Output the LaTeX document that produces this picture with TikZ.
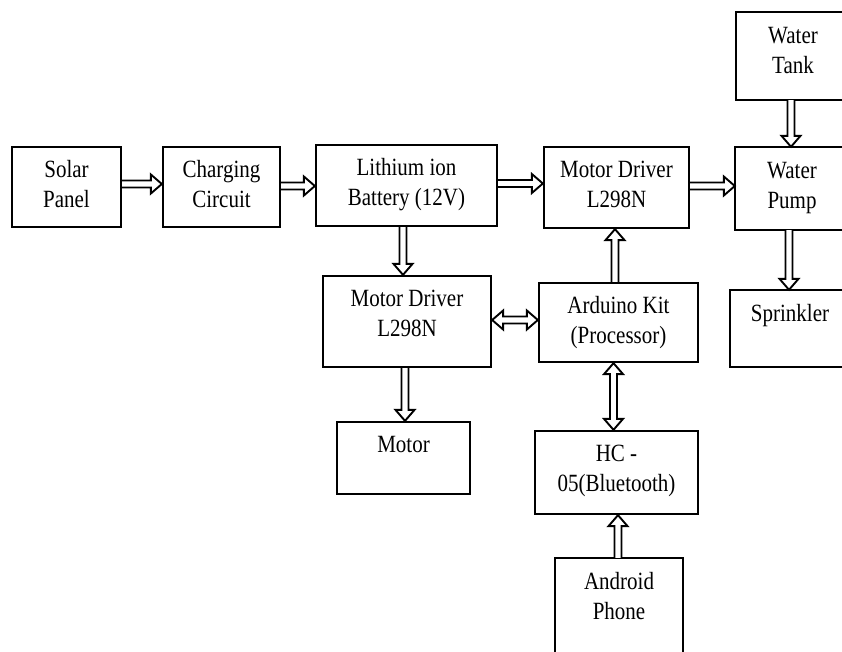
\documentclass[tikz,border=0pt]{standalone}
\usepackage{fontspec}
\setmainfont{Liberation Serif}
\usetikzlibrary{fit,calc}
\newcommand\sw{3.5pt}
\newcommand\hw{9.5pt}
\newcommand\hl{11pt}
\tikzset{
  box/.style={draw, line width=2.3pt, inner sep=0pt, rectangle},
  openbox/.style={inner sep=0pt, rectangle},
  edge3/.style={line width=2.3pt},
  lbl/.style={inner sep=0pt, anchor=base, font=\fontsize{21}{25.4}\selectfont},
  blk/.style={draw, line width=1.9pt, line join=miter, fill=white}
}
% single-headed horizontal arrow
\newcommand\harr[2]{\draw[blk] let \p1=(#1), \p2=(#2), \n1={sign(\x2-\x1)} in
  ({\x1},{\y1-\sw}) -- ({\x2-\n1*\hl},{\y1-\sw}) -- ({\x2-\n1*\hl},{\y1-\hw}) -- ({\x2},{\y1})
  -- ({\x2-\n1*\hl},{\y1+\hw}) -- ({\x2-\n1*\hl},{\y1+\sw}) -- ({\x1},{\y1+\sw});}
% single-headed vertical arrow
\newcommand\varr[2]{\draw[blk] let \p1=(#1), \p2=(#2), \n1={sign(\y2-\y1)} in
  ({\x1-\sw},{\y1}) -- ({\x1-\sw},{\y2-\n1*\hl}) -- ({\x1-\hw},{\y2-\n1*\hl}) -- ({\x1},{\y2})
  -- ({\x1+\hw},{\y2-\n1*\hl}) -- ({\x1+\sw},{\y2-\n1*\hl}) -- ({\x1+\sw},{\y1});}
% double-headed horizontal arrow
\newcommand\hdarr[2]{\draw[blk] let \p1=(#1), \p2=(#2), \n1={sign(\x2-\x1)} in
  ({\x1},{\y1}) -- ({\x1+\n1*\hl},{\y1-\hw}) -- ({\x1+\n1*\hl},{\y1-\sw}) -- ({\x2-\n1*\hl},{\y1-\sw})
  -- ({\x2-\n1*\hl},{\y1-\hw}) -- ({\x2},{\y1}) -- ({\x2-\n1*\hl},{\y1+\hw}) -- ({\x2-\n1*\hl},{\y1+\sw})
  -- ({\x1+\n1*\hl},{\y1+\sw}) -- ({\x1+\n1*\hl},{\y1+\hw}) -- cycle;}
% double-headed vertical arrow
\newcommand\vdarr[2]{\draw[blk] let \p1=(#1), \p2=(#2), \n1={sign(\y2-\y1)} in
  ({\x1},{\y1}) -- ({\x1-\hw},{\y1+\n1*\hl}) -- ({\x1-\sw},{\y1+\n1*\hl}) -- ({\x1-\sw},{\y2-\n1*\hl})
  -- ({\x1-\hw},{\y2-\n1*\hl}) -- ({\x1},{\y2}) -- ({\x1+\hw},{\y2-\n1*\hl}) -- ({\x1+\sw},{\y2-\n1*\hl})
  -- ({\x1+\sw},{\y1+\n1*\hl}) -- ({\x1+\hw},{\y1+\n1*\hl}) -- cycle;}
\newcommand\boxlabel[3]{%
  \node[lbl] (#1-t) at ([yshift=-31.5pt]#1.north -| #2) {\scalebox{1}[1.18]{\begin{tabular}[t]{@{}c@{}}#3\end{tabular}}};}
% closed box with top-aligned text
\newcommand\blockbox[3]{%
  \node[box, fit={#2}] (#1) {};
  \boxlabel{#1}{#1.north}{#3}}
% box cut off by the right edge of the picture: #4 = text centre x
\newcommand\cutbox[4]{%
  \node[openbox, fit={#2}] (#1) {};
  \draw[edge3] ([xshift=40pt]#1.north east) -- (#1.north west) -- (#1.south west) -- ([xshift=40pt]#1.south east);
  \boxlabel{#1}{#4}{#3}}
% box cut off by the bottom edge of the picture
\newcommand\cutboxb[3]{%
  \node[openbox, fit={#2}] (#1) {};
  \draw[edge3] ([yshift=-40pt]#1.south west) -- (#1.north west) -- (#1.north east) -- ([yshift=-40pt]#1.south east);
  \boxlabel{#1}{#1.north}{#3}}
\begin{document}
\begin{tikzpicture}[x=1pt,y=-1pt]
\useasboundingbox (0,0) rectangle (842,651);
\clip (0,0) rectangle (842,651);
\fill[white] (0,0) rectangle (842,651);
\blockbox{solar}{(12,147) (121,227)}{Solar\\Panel}
\blockbox{charging}{(163,147) (280,227)}{Charging\\Circuit}
\blockbox{lithium}{(316,145) (497,226)}{Lithium ion\\Battery (12V)}
\blockbox{mdtop}{(544,147) (689,228)}{Motor Driver\\L298N}
\cutbox{tank}{(736,12) (852,100)}{Water\\Tank}{793,0}
\cutbox{pump}{(735,147) (852,230)}{Water\\Pump}{792,0}
\cutbox{sprinkler}{(730,290) (852,367)}{Sprinkler}{790,0}
\blockbox{arduino}{(539,283) (698,362)}{Arduino Kit\\(Processor)}
\blockbox{mdbot}{(323,276) (491,367)}{Motor Driver\\L298N}
\blockbox{motor}{(337,422) (470,494)}{Motor}
\blockbox{hc}{(535,431) (698,514)}{HC -\\05(Bluetooth)}
\cutboxb{android}{(555,558) (683,660)}{Android\\Phone}
% connectors
\coordinate (a1s) at ($(solar.east)+(0,-3)$);
\coordinate (a1e) at (a1s -| charging.west);
\harr{a1s}{a1e}
\coordinate (a2s) at ($(charging.east)+(0,-1)$);
\coordinate (a2e) at (a2s -| lithium.west);
\harr{a2s}{a2e}
\coordinate (a3s) at ($(lithium.east)+(0,-2)$);
\coordinate (a3e) at (a3s -| mdtop.west);
\harr{a3s}{a3e}
\coordinate (a4s) at ($(mdtop.east)+(0,-1.5)$);
\coordinate (a4e) at (a4s -| pump.west);
\harr{a4s}{a4e}
\coordinate (a5s) at (791,0 |- tank.south);
\coordinate (a5e) at (a5s |- pump.north);
\varr{a5s}{a5e}
\coordinate (a6s) at (789,0 |- pump.south);
\coordinate (a6e) at (a6s |- sprinkler.north);
\varr{a6s}{a6e}
\coordinate (a7s) at ($(lithium.south)+(-3.5,0)$);
\coordinate (a7e) at (a7s |- mdbot.north);
\varr{a7s}{a7e}
\coordinate (a8s) at ($(arduino.north)+(-3.5,0)$);
\coordinate (a8e) at (a8s |- mdtop.south);
\varr{a8s}{a8e}
\coordinate (a9s) at ($(mdbot.east)+(0,-1.5)$);
\coordinate (a9e) at (a9s -| arduino.west);
\hdarr{a9s}{a9e}
\coordinate (a10s) at ($(arduino.south)+(-5,0)$);
\coordinate (a10e) at (a10s |- hc.north);
\vdarr{a10s}{a10e}
\coordinate (a11s) at ($(mdbot.south)+(-2,0)$);
\coordinate (a11e) at (a11s |- motor.north);
\varr{a11s}{a11e}
\coordinate (a12s) at ($(android.north)+(-1,0)$);
\coordinate (a12e) at (a12s |- hc.south);
\varr{a12s}{a12e}
\end{tikzpicture}
\end{document}
